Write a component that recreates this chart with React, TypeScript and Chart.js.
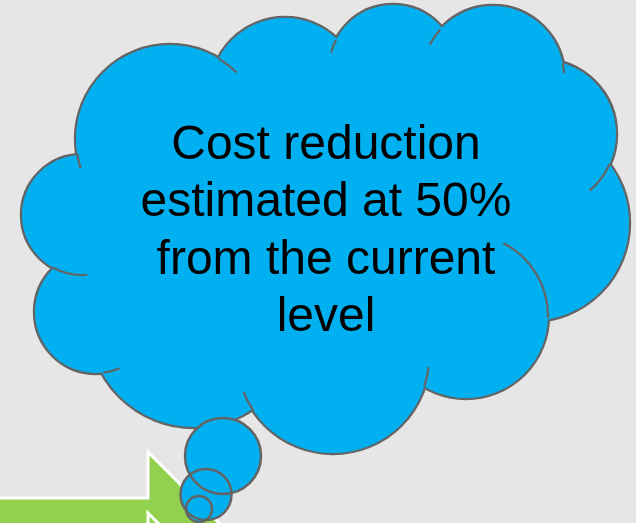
import React, { useEffect, useRef } from 'react';
import { Chart, registerables } from 'chart.js';

Chart.register(...registerables);

// Cloud lobes (centre x, centre y, radius) in chart units
const lobeX = [170, 285, 393, 493, 542, 531, 466, 333, 194, 96, 82];
const lobeY = [139, 93, 69, 77, 134, 223, 316, 357, 322, 312, 215];
const lobeR = [94, 75, 64, 71, 74, 98, 82, 96, 105, 61, 60];

// Short inner arcs of the cloud (lobe index, from / to angle in degrees)
const innerArcLobe = [0, 0, 2, 3, 3, 4, 6, 7, 7, 9, 10];
const innerArcFrom = [162, -59, -165, -153, -11, 24, -63, 6, 146, 67, 85];
const innerArcTo = [171, -45, -153, -138, -3, 50, 1.4, 18, 158.5, 83, 119];

// Thought bubbles
const bubbleX = [223, 206, 199];
const bubbleY = [456, 494.5, 509];
const bubbleR = [38, 25.5, 13];

// Green arrows (polygon vertices)
const arrowX = [-10, 148, 148, 236, 148, 148, -10];
const arrowY1 = [498, 498, 452, 540, 628, 582, 582];
const arrowY2 = [559, 559, 513, 601, 689, 643, 643];

const textLines = ['Cost reduction', 'estimated at 50%', 'from the current', 'level'];

const BLUE = '#00b0f0';
const OUTLINE = '#646464';
const GREEN = '#92d050';
const BG = '#e6e6e6';

const cloudPlugin = {
  id: 'cloudShape',
  beforeDatasetsDraw(chart: any) {
    const ctx = chart.ctx;
    const xs = chart.scales.x;
    const ys = chart.scales.y;
    ctx.save();
    [arrowY1, arrowY2].forEach((ay) => {
      ctx.beginPath();
      arrowX.forEach((vx, i) => {
        const px = xs.getPixelForValue(vx);
        const py = ys.getPixelForValue(ay[i]);
        if (i === 0) ctx.moveTo(px, py);
        else ctx.lineTo(px, py);
      });
      ctx.closePath();
      ctx.fillStyle = GREEN;
      ctx.fill();
      ctx.lineWidth = 3;
      ctx.strokeStyle = '#ffffff';
      ctx.lineJoin = 'miter';
      ctx.stroke();
    });
    ctx.restore();
  },
  afterDatasetDraw(chart: any, args: any) {
    const ds = chart.data.datasets[args.index];
    if (ds.label !== 'cloud-fill') return;
    const ctx = chart.ctx;
    const xs = chart.scales.x;
    const ys = chart.scales.y;
    ctx.save();
    // interior polygon through lobe centres
    ctx.beginPath();
    lobeX.forEach((vx, i) => {
      const px = xs.getPixelForValue(vx);
      const py = ys.getPixelForValue(lobeY[i]);
      if (i === 0) ctx.moveTo(px, py);
      else ctx.lineTo(px, py);
    });
    ctx.closePath();
    ctx.fillStyle = BLUE;
    ctx.fill();
    // inner arcs
    ctx.strokeStyle = OUTLINE;
    ctx.lineWidth = 2.2;
    ctx.lineCap = 'butt';
    innerArcLobe.forEach((li, k) => {
      const cx = xs.getPixelForValue(lobeX[li]);
      const cy = ys.getPixelForValue(lobeY[li]);
      const r = Math.abs(xs.getPixelForValue(lobeR[li]) - xs.getPixelForValue(0));
      ctx.beginPath();
      ctx.arc(cx, cy, r, (innerArcFrom[k] * Math.PI) / 180, (innerArcTo[k] * Math.PI) / 180);
      ctx.stroke();
    });
    ctx.restore();
  },
};

export default function App() {
  const canvasRef = useRef<HTMLCanvasElement>(null);

  useEffect(() => {
    if (!canvasRef.current) return;
    const lobes = lobeX.map((x, i) => ({ x, y: lobeY[i], r: lobeR[i] }));
    const bubbles = bubbleX.map((x, i) => ({ x, y: bubbleY[i], r: bubbleR[i] }));
    const chart = new Chart(canvasRef.current, {
      type: 'bubble',
      data: {
        datasets: [
          {
            label: 'cloud-stroke',
            data: lobes,
            backgroundColor: 'rgba(0,0,0,0)',
            borderColor: OUTLINE,
            borderWidth: 4.4,
            order: 4,
            clip: false,
          } as any,
          {
            label: 'cloud-fill',
            data: lobes,
            backgroundColor: BLUE,
            borderWidth: 0,
            order: 3,
            clip: false,
          } as any,
          {
            label: 'thought-fill',
            data: bubbles,
            backgroundColor: BLUE,
            borderWidth: 0,
            order: 2,
            clip: false,
          } as any,
          {
            label: 'thought-stroke',
            data: bubbles,
            backgroundColor: 'rgba(0,0,0,0)',
            borderColor: OUTLINE,
            borderWidth: 2.5,
            order: 1,
            clip: false,
          } as any,
        ],
      },
      options: {
        animation: false,
        responsive: false,
        devicePixelRatio: 1,
        events: [],
        layout: { padding: 0, autoPadding: false },
        scales: {
          x: { type: 'linear', min: 0, max: 636, display: false },
          y: { type: 'linear', min: 0, max: 523, reverse: true, display: false },
        },
        plugins: {
          legend: { display: false },
          tooltip: { enabled: false },
          title: { display: false },
        },
      },
      plugins: [cloudPlugin],
    });
    return () => chart.destroy();
  }, []);

  return (
    <div
      style={{
        position: 'fixed',
        left: 0,
        top: 0,
        width: 636,
        height: 523,
        background: BG,
        overflow: 'hidden',
      }}
    >
      <canvas ref={canvasRef} width={636} height={523} style={{ display: 'block' }} />
      <div
        style={{
          position: 'absolute',
          left: 126,
          width: 400,
          top: 113.6,
          textAlign: 'center',
          fontFamily: '"Liberation Sans", Arial, sans-serif',
          fontSize: 48,
          lineHeight: '57.6px',
          color: '#000000',
          whiteSpace: 'nowrap',
        }}
      >
        {textLines.map((t) => (
          <div key={t}>{t}</div>
        ))}
      </div>
    </div>
  );
}
